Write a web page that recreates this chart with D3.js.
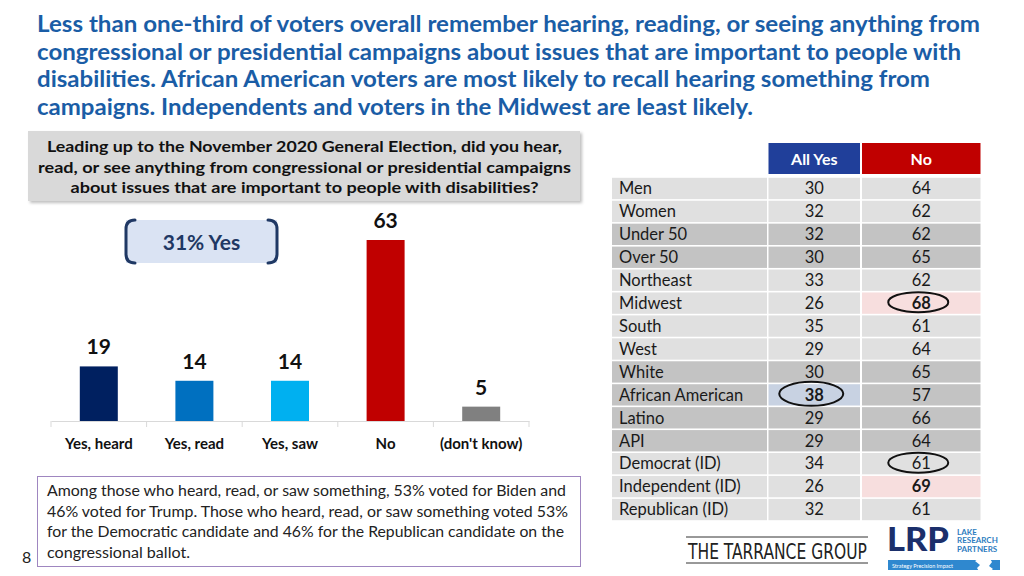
<!DOCTYPE html>
<html><head><meta charset="utf-8">
<script src="https://cdn.jsdelivr.net/npm/d3@7"></script>
<style>
html,body{margin:0;padding:0;background:#fff;}
svg{display:block;font-family:Lato,"Noto Sans",sans-serif;}
</style></head>
<body><svg id="c" width="1024" height="576"></svg>
<script>
// ---------- DATA ----------
const titleLines = [
  "Less than one-third of voters overall remember hearing, reading, or seeing anything from",
  "congressional or presidential campaigns about issues that are important to people with",
  "disabilities. African American voters are most likely to recall hearing something from",
  "campaigns. Independents and voters in the Midwest are least likely."
];
const questionLines = [
  "Leading up to the November 2020 General Election, did you hear,",
  "read, or see anything from congressional or presidential campaigns",
  "about issues that are important to people with disabilities?"
];
const barCategories = ["Yes, heard","Yes, read","Yes, saw","No","(don't know)"];
const barValues = [19,14,14,63,5];
const barColors = ["#002060","#0070C0","#00B0F0","#C00000","#808080"];
const totalYesLabel = "31% Yes";
const noteLines = [
  "Among those who heard, read, or saw something, 53% voted for Biden and",
  "46% voted for Trump. Those who heard, read, or saw something voted 53%",
  "for the Democratic candidate and 46% for the Republican candidate on the",
  "congressional ballot."
];
const tableHeaders = ["All Yes","No"];
const tableGroups = ["Men","Women","Under 50","Over 50","Northeast","Midwest","South","West","White","African American","Latino","API","Democrat (ID)","Independent (ID)","Republican (ID)"];
const allYesValues = [30,32,32,30,33,26,35,29,30,38,29,29,34,26,32];
const noValues = [64,62,62,65,62,68,61,64,65,57,66,64,61,69,61];
const darkRows = ["Under 50","Over 50","White","African American","Latino","API"];
const highlightCells = [ // group, column, fill, bold, circled
  {group:"Midwest", col:"No", fill:"#F7DEDE", bold:true, circle:true},
  {group:"African American", col:"All Yes", fill:"#C8D2E2", bold:true, circle:true},
  {group:"Democrat (ID)", col:"No", fill:null, bold:false, circle:true},
  {group:"Independent (ID)", col:"No", fill:"#F7DEDE", bold:true, circle:false}
];
const pageNumber = "8";

// ---------- DRAW ----------
const svg = d3.select("#c");
function fit(sel, w){ sel.each(function(){ const l=this.getComputedTextLength(); if(Math.abs(l-w)>1){ d3.select(this).attr("textLength",w).attr("lengthAdjust","spacingAndGlyphs"); } }); }
function squeeze(sel, x0, y0, w){ sel.each(function(){ const l=this.getComputedTextLength(); d3.select(this).attr("x",0).attr("y",0).attr("transform",`translate(${x0},${y0}) scale(${w/l},1)`); }); }

// Title
const titleW = [943, 924, 893, 716];
svg.selectAll("text.title").data(titleLines).join("text").attr("class","title")
  .attr("x",37).attr("y",(d,i)=>32+i*27.7)
  .attr("font-size",22.5).attr("font-weight","bold").attr("fill","#1A5DA6")
  .text(d=>d).each(function(d,i){ fit(d3.select(this), titleW[i]); });

// Question box
const defs = svg.append("defs");
const f = defs.append("filter").attr("id","sh").attr("x","-5%").attr("y","-20%").attr("width","115%").attr("height","150%");
f.append("feDropShadow").attr("dx",2).attr("dy",2).attr("stdDeviation",1.5).attr("flood-color","#000").attr("flood-opacity",0.25);
svg.append("rect").attr("x",28).attr("y",131).attr("width",552).attr("height",70).attr("fill","#D9D9D9").attr("filter","url(#sh)");
const qW = [515, 533, 468];
svg.selectAll("text.q").data(questionLines).join("text").attr("class","q")
  .attr("x",304.5).attr("y",(d,i)=>152+i*20.5).attr("text-anchor","middle")
  .attr("font-size",15.5).attr("font-weight","bold").attr("fill","#111")
  .text(d=>d).each(function(d,i){ fit(d3.select(this), qW[i]); });

// Bars
const y = d3.scaleLinear().domain([0,63]).range([421,240]);
const xAxisBand = d3.scaleBand().domain(barCategories).range([51,529]);
const ax = svg.append("g").attr("transform","translate(0,421)")
  .call(d3.axisBottom(xAxisBand).tickSize(0).tickFormat(""));
ax.select(".domain").attr("stroke","#D9D9D9");
svg.append("g").selectAll("line").data(d3.range(barCategories.length+1)).join("line")
  .attr("x1",i=>51+i*xAxisBand.step()).attr("x2",i=>51+i*xAxisBand.step())
  .attr("y1",421).attr("y2",427).attr("stroke","#D9D9D9");
const bw = 38;
svg.append("g").selectAll("rect").data(barCategories).join("rect")
  .attr("x",(d)=>xAxisBand(d)+xAxisBand.bandwidth()/2-bw/2).attr("width",bw)
  .attr("y",(d,i)=>y(barValues[i])).attr("height",(d,i)=>421-y(barValues[i]))
  .attr("fill",(d,i)=>barColors[i]);
svg.append("g").selectAll("text").data(barCategories).join("text")
  .attr("x",d=>xAxisBand(d)+xAxisBand.bandwidth()/2).attr("y",(d,i)=>y(barValues[i])-12)
  .attr("text-anchor","middle").attr("font-size",21).attr("font-weight","bold").attr("fill","#111")
  .text((d,i)=>barValues[i]);
svg.append("g").selectAll("text").data(barCategories).join("text")
  .attr("x",d=>xAxisBand(d)+xAxisBand.bandwidth()/2).attr("y",448.5)
  .attr("text-anchor","middle").attr("font-size",15).attr("font-weight","bold").attr("fill","#111")
  .text(d=>d);

// 31% Yes bracket box
const bx0=126, bx1=277, by0=220, by1=263;
svg.append("rect").attr("x",bx0).attr("y",by0).attr("width",bx1-bx0).attr("height",by1-by0).attr("fill","#DAE3F3");
const brk = svg.append("g").attr("fill","none").attr("stroke","#1F3864").attr("stroke-width",3).attr("stroke-linecap","round");
brk.append("path").attr("d",`M${bx0+9},${by0} Q${bx0},${by0} ${bx0},${by0+9} L${bx0},${by1-9} Q${bx0},${by1} ${bx0+9},${by1}`);
brk.append("path").attr("d",`M${bx1-9},${by0} Q${bx1},${by0} ${bx1},${by0+9} L${bx1},${by1-9} Q${bx1},${by1} ${bx1-9},${by1}`);
svg.append("text").attr("x",(bx0+bx1)/2).attr("y",249.5).attr("text-anchor","middle")
  .attr("font-size",21).attr("font-weight","bold").attr("fill","#1F3864").text(totalYesLabel);

// Note box
svg.append("rect").attr("x",37.5).attr("y",476.5).attr("width",543).attr("height",90).attr("fill","#fff").attr("stroke","#9F86C0").attr("stroke-width",1);
const nW = [519, 521, 517, 143];
svg.selectAll("text.note").data(noteLines).join("text").attr("class","note")
  .attr("x",47).attr("y",(d,i)=>496+i*20.7).attr("font-size",14.5).attr("fill","#222")
  .text(d=>d).each(function(d,i){ fit(d3.select(this), nW[i]); });
svg.append("text").attr("x",22).attr("y",563).attr("font-size",16).attr("fill","#222").text(pageNumber);

// Table
const cols = ["label", ...tableHeaders];
const colX = {label:[612,767], "All Yes":[768.5,860], "No":[862,980.5]};
const ry = d3.scaleBand().domain(tableGroups).range([177,521]).paddingInner(0.07).paddingOuter(0.035);
const tg = svg.append("g");
const headColors = {"All Yes":"#203F9A","No":"#C00000"};
tableHeaders.forEach(h=>{
  tg.append("rect").attr("x",colX[h][0]).attr("y",143).attr("width",colX[h][1]-colX[h][0]).attr("height",31).attr("fill",headColors[h]);
  tg.append("text").attr("x",(colX[h][0]+colX[h][1])/2).attr("y",164.5).attr("text-anchor","middle")
    .attr("font-size",16).attr("font-weight","bold").attr("fill","#fff").text(h);
});
const hl = (g,c)=>highlightCells.find(h=>h.group===g && h.col===c);
tableGroups.forEach((g,i)=>{
  const base = darkRows.includes(g) ? "#C3C3C3" : "#E0E0E0";
  const yy = ry(g), hh = ry.bandwidth();
  cols.forEach(c=>{
    const h = hl(g,c);
    tg.append("rect").attr("x",colX[c][0]).attr("y",yy).attr("width",colX[c][1]-colX[c][0]).attr("height",hh)
      .attr("fill", h && h.fill ? h.fill : base);
  });
  const ty = yy+hh/2+5.8;
  tg.append("text").attr("x",619).attr("y",ty).attr("font-size",16.5).attr("fill","#1a1a1a").text(g);
  [["All Yes",allYesValues[i]],["No",noValues[i]]].forEach(([c,v])=>{
    const h = hl(g,c);
    tg.append("text").attr("x",(colX[c][0]+colX[c][1])/2).attr("y",ty).attr("text-anchor","middle")
      .attr("font-size",16.5).attr("font-weight",h&&h.bold?"bold":"normal").attr("fill","#1a1a1a").text(v);
  });
});
highlightCells.filter(h=>h.circle).forEach(h=>{
  const cx = (colX[h.col][0]+colX[h.col][1])/2 - 3;
  const cy = ry(h.group)+ry.bandwidth()/2 - 1;
  const big = h.col==="All Yes";
  tg.append("ellipse").attr("cx",cx).attr("cy",cy).attr("rx",big?32:30).attr("ry",big?12:10)
    .attr("fill","none").attr("stroke","#111").attr("stroke-width",2);
});

// Logos
const lg = svg.append("g");
lg.append("line").attr("x1",686).attr("x2",868).attr("y1",537).attr("y2",537).attr("stroke","#333").attr("stroke-width",1);
lg.append("line").attr("x1",686).attr("x2",868).attr("y1",563).attr("y2",563).attr("stroke","#333").attr("stroke-width",1);
lg.append("text").attr("font-family","'Liberation Sans Narrow','DejaVu Sans Condensed',sans-serif")
  .attr("font-size",22).attr("fill","#222").attr("font-weight","300").text("THE TARRANCE GROUP")
  .call(s=>squeeze(s,688,558.5,179));
lg.append("text").attr("font-size",32).attr("font-weight","900").attr("fill","#1B2F6B")
  .text("LRP").call(s=>squeeze(s,887,551,62));
["LAKE","RESEARCH","PARTNERS"].forEach((t,i)=>{
  lg.append("text").attr("x",957).attr("y",535+i*8.3).attr("font-size",8).attr("font-weight","bold").attr("fill","#2E7DC0").text(t);
});
lg.append("rect").attr("x",888).attr("y",560).attr("width",112).attr("height",10).attr("fill","#2F88CF");
lg.append("text").attr("x",892).attr("y",567.8).attr("font-size",5.5).attr("fill","#fff").text("Strategy  Precision  Impact");
lg.append("path").attr("d","M975,561 l6,-4 l3,3 l5,-3 l3,5 l-3,4 l4,3 l-5,4 l-4,-3 l-4,3 l-3,-5 l3,-3 z").attr("fill","#fff");
</script></body></html>
